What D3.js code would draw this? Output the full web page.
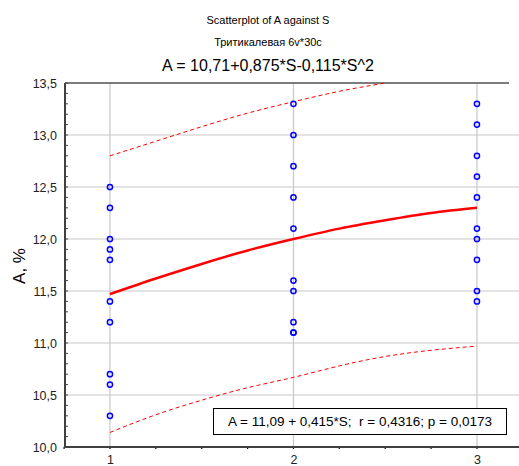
<!DOCTYPE html>
<html>
<head>
<meta charset="utf-8">
<script src="https://cdn.jsdelivr.net/npm/d3@7"></script>
<style>
  body { margin: 0; background: #fff; }
  svg { font-family: "Liberation Sans", Arial, sans-serif; }
</style>
</head>
<body>
<div id="chart"></div>
<script>
'use strict';

// observed values for each S group
const s1Values = [12.5, 12.3, 12.0, 11.9, 11.8, 11.4, 11.2, 10.7, 10.6, 10.3];
const s2Values = [13.3, 13.0, 12.7, 12.4, 12.1, 11.6, 11.5, 11.2, 11.1, 11.1];
const s3Values = [13.3, 13.1, 12.8, 12.6, 12.4, 12.1, 12.0, 11.8, 11.5, 11.4];

// fitted curve and dashed band read at S = 1, 1.25, ... 3
const curveS = [1, 1.25, 1.5, 1.75, 2, 2.25, 2.5, 2.75, 3];
const fitValues = [11.47, 11.62, 11.76, 11.89, 12.0, 12.10, 12.18, 12.25, 12.30];
const upperValues = [12.80, 12.94, 13.08, 13.21, 13.32, 13.42, 13.50, 13.57, 13.63];
const lowerValues = [10.14, 10.31, 10.45, 10.57, 10.67, 10.78, 10.87, 10.93, 10.97];

const xTicks = [1, 2, 3];
const yTicks = [10.0, 10.5, 11.0, 11.5, 12.0, 12.5, 13.0, 13.5];

const titleLines = ["Scatterplot of A against S", "Тритикалевая 6v*30c"];
const mainTitle = "A = 10,71+0,875*S-0,115*S^2";
const yLabel = "A, %";
const legendText = "A = 11,09 + 0,415*S;  r = 0,4316; p = 0,0173";

const width = 519, height = 466;
const margin = { left: 65, top: 83, bottom: 19 };

const svg = d3.select("#chart").append("svg")
    .attr("width", width)
    .attr("height", height);

const x = d3.scaleLinear().domain([0.755, 3.25]).range([margin.left, margin.left + 2.495 * 183.5]);
const y = d3.scaleLinear().domain([10, 13.5]).range([height - margin.bottom, margin.top]);

const comma = d => d3.format(".1f")(d).replace(".", ",");

// clip for plot area
svg.append("clipPath").attr("id", "plotClip")
    .append("rect")
    .attr("x", x.range()[0]).attr("y", y(13.5))
    .attr("width", width - x.range()[0]).attr("height", y(10) - y(13.5));

// grid
const grid = svg.append("g").attr("class", "grid");
grid.selectAll("line.h").data(yTicks.slice(1, -1)).enter().append("line")
    .attr("x1", x.range()[0]).attr("x2", width)
    .attr("y1", d => y(d)).attr("y2", d => y(d))
    .attr("stroke", "#c8c8c8").attr("stroke-width", 1.2);
grid.selectAll("line.v").data(xTicks).enter().append("line")
    .attr("x1", d => x(d)).attr("x2", d => x(d))
    .attr("y1", y(13.5)).attr("y2", y(10))
    .attr("stroke", "#c8c8c8").attr("stroke-width", 1.2);

// axes
const yAxis = d3.axisLeft(y).tickValues(yTicks).tickFormat(comma).tickSize(0).tickPadding(8);
const yAxisG = svg.append("g")
    .attr("transform", `translate(${x.range()[0]},0)`)
    .call(yAxis);
yAxisG.select(".domain").remove();
yAxisG.selectAll("text").attr("font-size", 12.5).attr("fill", "#222");

const yMinor = d3.range(100, 136).map(d => d / 10);
svg.append("g").selectAll("line").data(yMinor).enter().append("line")
    .attr("x1", x.range()[0]).attr("x2", x.range()[0] + 3)
    .attr("y1", d => y(d)).attr("y2", d => y(d))
    .attr("stroke", "#444").attr("stroke-width", 1);

const xAxis = d3.axisBottom(x).tickValues(xTicks).tickFormat(d3.format("d")).tickSize(0).tickPadding(8);
const xAxisG = svg.append("g")
    .attr("transform", `translate(0,${y(10)})`)
    .call(xAxis);
xAxisG.select(".domain").remove();
xAxisG.selectAll("text").attr("font-size", 12.5).attr("fill", "#222");

const xMinor = d3.range(3, 14).map(d => d / 4);
svg.append("g").selectAll("line").data(xMinor).enter().append("line")
    .attr("x1", d => x(d)).attr("x2", d => x(d))
    .attr("y1", y(10)).attr("y2", y(10) + 2)
    .attr("stroke", "#000").attr("stroke-width", 1.2);

// frame
svg.append("line")
    .attr("x1", x.range()[0]).attr("x2", x.range()[0])
    .attr("y1", y(13.5)).attr("y2", y(10) + 1)
    .attr("stroke", "#404040").attr("stroke-width", 2);
svg.append("line")
    .attr("x1", x.range()[0]).attr("x2", width)
    .attr("y1", y(10)).attr("y2", y(10))
    .attr("stroke", "#404040").attr("stroke-width", 2);
svg.append("line")
    .attr("x1", x.range()[0]).attr("x2", 509)
    .attr("y1", y(13.5)).attr("y2", y(13.5))
    .attr("stroke", "#505050").attr("stroke-width", 1.5);

// curves
const line = d3.line().x(d => x(d[0])).y(d => y(d[1])).curve(d3.curveNatural);
const plot = svg.append("g").attr("clip-path", "url(#plotClip)");

plot.append("path")
    .datum(d3.zip(curveS, upperValues))
    .attr("d", line).attr("fill", "none")
    .attr("stroke", "#ff0000").attr("stroke-width", 1).attr("stroke-dasharray", "4,3");
plot.append("path")
    .datum(d3.zip(curveS, lowerValues))
    .attr("d", line).attr("fill", "none")
    .attr("stroke", "#ff0000").attr("stroke-width", 1).attr("stroke-dasharray", "4,3");
plot.append("path")
    .datum(d3.zip(curveS, fitValues))
    .attr("d", line).attr("fill", "none")
    .attr("stroke", "#ff0000").attr("stroke-width", 2.5);

// points
const points = [
    ...s1Values.map(v => [1, v]),
    ...s2Values.map(v => [2, v]),
    ...s3Values.map(v => [3, v])
];
svg.append("g").selectAll("circle").data(points).enter().append("circle")
    .attr("cx", d => x(d[0])).attr("cy", d => y(d[1]))
    .attr("r", 2.6)
    .attr("fill", "none").attr("stroke", "#0000ff").attr("stroke-width", 1.5);

// legend box
const legend = svg.append("g");
legend.append("rect")
    .attr("x", 213.5).attr("y", 408.5).attr("width", 293).attr("height", 26)
    .attr("fill", "#fff").attr("stroke", "#000").attr("stroke-width", 1);
legend.append("text")
    .attr("x", 360).attr("y", 426)
    .attr("text-anchor", "middle").attr("font-size", 13.5)
    .style("white-space", "pre")
    .text(legendText);

// titles
svg.append("text").attr("x", 268).attr("y", 24)
    .attr("text-anchor", "middle").attr("font-size", 11)
    .text(titleLines[0]);
svg.append("text").attr("x", 268).attr("y", 46)
    .attr("text-anchor", "middle").attr("font-size", 11)
    .text(titleLines[1]);
svg.append("text").attr("x", 268).attr("y", 71)
    .attr("text-anchor", "middle").attr("font-size", 16)
    .text(mainTitle);

svg.append("text")
    .attr("transform", "translate(25,266) rotate(-90)")
    .attr("text-anchor", "middle").attr("font-size", 17)
    .text(yLabel);
</script>
</body>
</html>
